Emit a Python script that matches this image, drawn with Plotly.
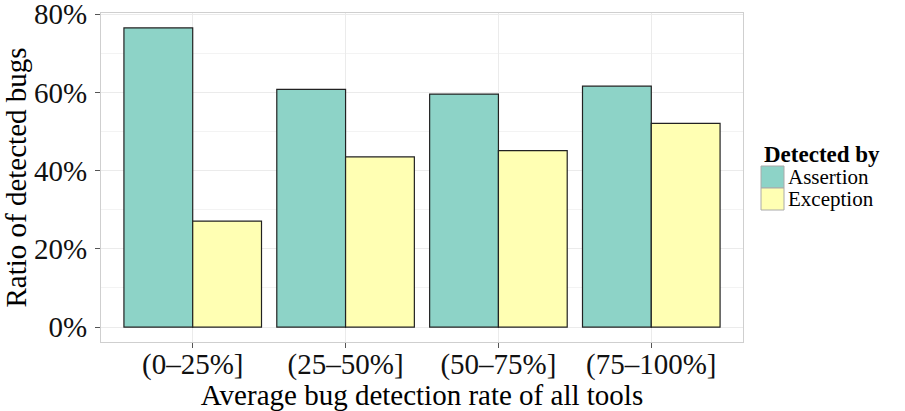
import plotly.graph_objects as go

# ---- data ----
categories = ["(0–25%]", "(25–50%]", "(50–75%]", "(75–100%]"]
assertion = [76.5, 60.8, 59.6, 61.6]
exception = [27.1, 43.5, 45.1, 52.1]
series_names = ["Assertion", "Exception"]
series_colors = ["#8dd3c7", "#ffffb3"]
y_ticks = [0, 20, 40, 60, 80]
y_tick_labels = ["0%", "20%", "40%", "60%", "80%"]
legend_title = "Detected by"
x_title = "Average bug detection rate of all tools"
y_title = "Ratio of detected bugs"

W, H = 905, 411
L, R, T, B = 101, 162, 13, 69
FONT = "Liberation Serif"

fig = go.Figure()
for name, vals, col in zip(series_names, [assertion, exception], series_colors):
    fig.add_trace(go.Bar(
        x=categories, y=vals, name=name,
        marker=dict(color=col, line=dict(color="#222222", width=1.2)),
        showlegend=False,
    ))

ymax = max(assertion + exception)
fig.update_layout(
    width=W, height=H,
    margin=dict(l=L, r=R, t=T, b=B, autoexpand=False),
    paper_bgcolor="white", plot_bgcolor="white",
    barmode="group", bargap=0.1, bargroupgap=0,
    font=dict(family=FONT, color="black", size=30),
    xaxis=dict(
        type="category", range=[-0.6, 3.6],
        showgrid=True, gridcolor="#ebebeb", gridwidth=1,
        showline=True, linecolor="#cfcfcf", linewidth=1.2, mirror=True,
        ticks="outside", ticklen=5, tickcolor="#555555",
        ticklabelstandoff=-9,
        tickfont=dict(size=29, family=FONT, color="#111111"),
        title=dict(text=x_title, font=dict(size=29, family=FONT), standoff=0),
        zeroline=False,
    ),
    yaxis=dict(
        range=[-0.05 * ymax, ymax * 1.05],
        tickvals=y_ticks, ticktext=y_tick_labels,
        showgrid=True, gridcolor="#ebebeb", gridwidth=1,
        minor=dict(dtick=10, tick0=0, showgrid=True, gridcolor="#f3f3f3", gridwidth=0.6),
        showline=True, linecolor="#cfcfcf", linewidth=1.2, mirror=True,
        ticks="outside", ticklen=5, tickcolor="#555555",
        ticklabelstandoff=2, ticklabeloverflow="allow",
        tickfont=dict(size=29, family=FONT, color="#111111"),
        title=dict(text=y_title, font=dict(size=29, family=FONT), standoff=8),
        zeroline=False,
    ),
)

pw, ph = W - L - R, H - T - B
def px(x):
    return (x - L) / pw
def py(y):
    return (H - B - y) / ph

# legend
fig.add_annotation(x=px(762), y=py(154), xref="paper", yref="paper",
                   text="<b>" + legend_title + "</b>", showarrow=False,
                   xanchor="left", yanchor="middle",
                   font=dict(size=23, family=FONT, color="black"))
key_tops = [166, 188]
for name, col, top in zip(series_names, series_colors, key_tops):
    fig.add_shape(type="rect", xref="paper", yref="paper",
                  x0=px(761), x1=px(784), y0=py(top), y1=py(top + 22),
                  fillcolor=col, line=dict(color="#aaaaaa", width=1))
    fig.add_annotation(x=px(786), y=py(top + 11), xref="paper", yref="paper",
                       text=name, showarrow=False, xanchor="left", yanchor="middle",
                       font=dict(size=21, family=FONT, color="black"))

fig.write_html("out.html")
